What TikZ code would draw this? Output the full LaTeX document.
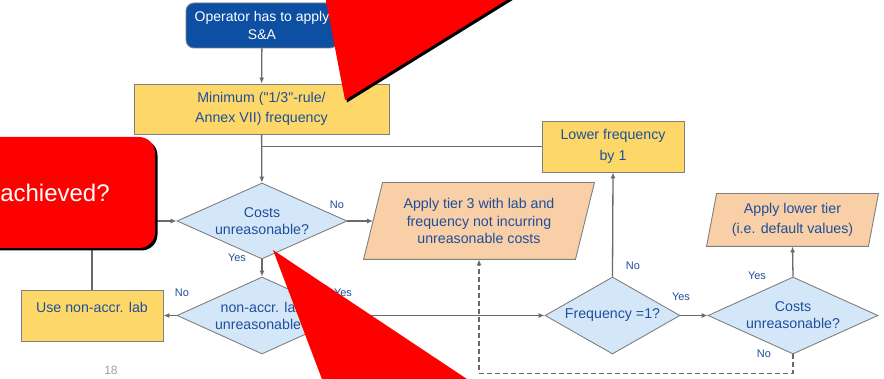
\documentclass[tikz,border=0pt]{standalone}
\usepackage{fontspec}
\setmainfont{Liberation Sans}
\usetikzlibrary{shapes.geometric,arrows.meta,backgrounds,shadows}

\definecolor{boxblue}{HTML}{0D4FA2}
\definecolor{txtblue}{HTML}{1F4E9B}
\definecolor{gold}{HTML}{FDD868}
\definecolor{skyfill}{HTML}{D4E7F8}
\definecolor{peach}{HTML}{F8CFA6}
\definecolor{edgegray}{HTML}{808080}
\definecolor{linegray}{HTML}{6A6A6A}
\definecolor{alertred}{HTML}{FF0000}
\definecolor{pagegray}{HTML}{A0A0A0}

\tikzset{
  x=1pt, y=-1pt,
  base/.style={draw=edgegray, line width=0.9pt, text=txtblue, align=center,
    inner sep=0pt, font=\fontsize{14.2}{17}\selectfont},
  startbox/.style={base, rectangle, rounded corners=8pt, fill=boxblue, text=white,
    font=\fontsize{14}{18}\selectfont},
  goldbox/.style={base, rectangle, fill=gold},
  decision/.style={base, diamond, fill=skyfill},
  outcome/.style={base, rectangle, draw=none},
  slanted/.style={draw=edgegray, line width=0.9pt, fill=peach},
  flow/.style={draw=linegray, line width=1.3pt, -{Latex[length=6pt,width=5pt]}},
  joinline/.style={draw=linegray, line width=1.3pt},
  tag/.style={text=txtblue, font=\fontsize{11}{12}\selectfont, inner sep=0pt},
  alertbox/.style={rectangle, rounded corners=16pt, fill=alertred, text=white,
    font=\fontsize{24}{28}\selectfont, inner sep=0pt,
    general shadow={fill=black, shadow xshift=2.5pt, shadow yshift=-2.5pt}},
}

\begin{document}
\begin{tikzpicture}
\useasboundingbox (0,0) rectangle (884,379);
\clip (0,0) rectangle (884,379);

% flowchart boxes
\node[startbox, minimum width=152pt, minimum height=45pt] (start) at (262,25.5)
  {Operator has to apply\\S\&A};
\node[goldbox, minimum width=255pt, minimum height=50pt,
  font=\fontsize{14.2}{19.5}\selectfont] (minf) at (261.5,109)
  {Minimum (\textquotedbl 1/3\textquotedbl -rule/\\Annex VII) frequency};
\node[goldbox, minimum width=142pt, minimum height=51pt,
  font=\fontsize{14.2}{21}\selectfont] (lower) at (613,146.5)
  {Lower frequency\\by 1};
\node[decision, minimum width=170pt, minimum height=76pt, aspect=2.24] (c1) at (262,221)
  {Costs\\unreasonable?};
\node[outcome, minimum width=211pt, minimum height=76pt,
  font=\fontsize{14.2}{17.5}\selectfont] (par1) at (479,221)
  {Apply tier 3 with lab and\\frequency not incurring\\unreasonable costs};
\node[decision, minimum width=170pt, minimum height=77pt, aspect=2.2] (nonaccr) at (262,315.5)
  {non-accr. lab\\unreasonable?};
\node[goldbox, minimum width=142pt, minimum height=51pt,
  font=\fontsize{14.2}{16.5}\selectfont] (use) at (92,315.5)
  {Use non-accr. lab\\\mbox{}};
\node[decision, minimum width=135pt, minimum height=77pt, aspect=1.75] (freq) at (612.5,315.5)
  {Frequency =1?};
\node[decision, minimum width=170pt, minimum height=77pt, aspect=2.2] (c2) at (793,315.5)
  {Costs\\unreasonable?};
\node[outcome, minimum width=161pt, minimum height=52pt,
  font=\fontsize{14.2}{20}\selectfont] (par2) at (792.5,220)
  {Apply lower tier\\(i.e. default values)};

% parallelogram outlines behind the outcome texts
\begin{pgfonlayer}{background}
  \fill[white] (0,0) rectangle (884,379);
  \draw[slanted] ([xshift=9.5pt]par1.north west) -- ([xshift=9.5pt]par1.north east)
    -- ([xshift=-9.5pt]par1.south east) -- ([xshift=-9.5pt]par1.south west) -- cycle;
  \draw[slanted] ([xshift=5pt]par2.north west) -- ([xshift=5pt]par2.north east)
    -- ([xshift=-5pt]par2.south east) -- ([xshift=-5pt]par2.south west) -- cycle;
\end{pgfonlayer}

% connectors
\draw[flow] (start) -- (minf);
\draw[flow] (minf) -- (c1);
\draw[joinline] (lower.west) -- (lower.west -| minf.south);
\draw[flow] (c1.east) -- (par1.west);
\draw[flow] (c1.south) -- (nonaccr.north);
\draw[flow] (nonaccr.west) -- (use.east);
\draw[flow] (use.north) |- (c1.west);
\draw[flow] (nonaccr.east) -- (freq.west);
\draw[flow] (freq.north) -- (lower.south);
\draw[flow] (freq.east) -- (c2.west);
\draw[flow] (c2.north) -- (par2.south);
\draw[flow, dash pattern=on 5pt off 3pt] (c2.south) -- ++(0,19) coordinate (dashturn)
  -| (par1.south);

% branch labels
\node[tag] (c1no) at (337,205) {No};
\node[tag] (c1yes) at (237,258) {Yes};
\node[tag] (nano) at (182,293) {No};
\node[tag] (nayes) at (343,293) {Yes};
\node[tag] (frno) at (633,266) {No};
\node[tag] (fryes) at (681,297) {Yes};
\node[tag] (c2yes) at (757,276) {Yes};
\node[tag] (c2no) at (764,354) {No};

% slide page number
\node[text=pagegray, font=\fontsize{12}{14}\selectfont, inner sep=0pt] (pagenum) at (111,370) {18};

% red callouts laid over the chart
\node[alertbox, minimum width=200pt, minimum height=111pt] (alert) at (55,192.5) {achieved?};
\fill[alertred, general shadow={fill=black, shadow xshift=2pt, shadow yshift=-2.5pt}]
  (322,-20) -- (345,100) -- (539,-20) -- cycle;
\fill[alertred] (273,250) -- (328,395) -- (491,395) -- cycle;
\end{tikzpicture}
\end{document}
